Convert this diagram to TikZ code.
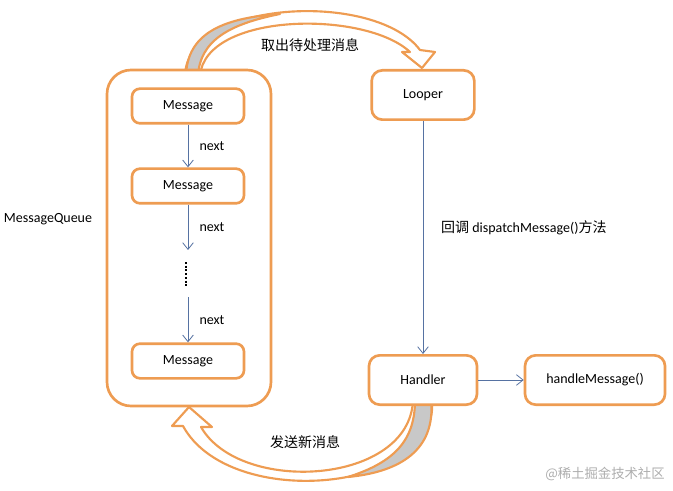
\documentclass[tikz,border=0pt]{standalone}
\usepackage{fontspec}
\setmainfont{Carlito}
\newfontfamily\cjk{Noto Sans CJK SC}
\usetikzlibrary{arrows.meta}

\definecolor{boxorange}{RGB}{238,156,82}
\definecolor{linkblue}{RGB}{86,114,162}
\definecolor{ribbongray}{RGB}{200,200,200}

\begin{document}
\begin{tikzpicture}[x=0.75pt, y=-0.75pt, line width=1pt,
    font=\fontsize{10.5}{12}\selectfont,
    msgbox/.style={draw=boxorange, line width=2pt, rounded corners=6pt, fill=white,
        minimum width=84pt, minimum height=26pt},
    rolebox/.style={draw=boxorange, line width=2pt, rounded corners=8pt, fill=white,
        minimum height=37pt},
    link/.style={draw=linkblue, line width=0.6pt, -{Straight Barb[length=5pt, width=8pt]}},
    ribbon/.style={draw=boxorange, line width=1.6pt, line join=round, fill=white}]
    \useasboundingbox (0, 0) rectangle (673, 491);

    % draw top block arrow (queue -> looper)
    \path[ribbon] (185, 76) .. controls (186, 0) and (375, -10) .. (420, 50)
        -- (435, 52) -- (422, 68) -- (402, 52) -- (410, 52)
        .. controls (365, 10) and (205, 12) .. (200, 76) -- cycle;
    \path[ribbon, fill=ribbongray] (186, 76) .. controls (187, 35) and (220, 18) .. (280, 14)
        .. controls (230, 24) and (200, 40) .. (198, 76) -- cycle;

    % draw bottom block arrow (handler -> queue)
    \path[ribbon] (432, 400) .. controls (440, 492) and (230, 512) .. (183, 426)
        -- (172, 426) -- (189, 407) -- (212, 427) -- (201, 427)
        .. controls (240, 495) and (410, 485) .. (413, 400) -- cycle;
    \path[ribbon, fill=ribbongray] (431, 400) .. controls (436, 450) and (400, 472) .. (348, 477)
        .. controls (395, 462) and (415, 440) .. (415, 400) -- cycle;

    % draw message queue
    \draw[boxorange, line width=2pt, rounded corners=18pt, fill=white] (107, 70) rectangle (271, 406);
    \node (queue) at (48, 219) {MessageQueue};

    \node[msgbox] (msga) at (188, 106) {Message};
    \node[msgbox] (msgb) at (188, 186) {Message};
    \node[msgbox] (msgc) at (188, 361) {Message};
    \coordinate (gapa) at (188, 250);
    \coordinate (gapb) at (188, 297);

    \draw[link] (msga) -- node[right=5pt] (nexta) {next} (msgb);
    \draw[link] (msgb) -- node[right=5pt] (nextb) {next} (gapa);
    \draw[line width=1.6pt, dash pattern=on 1.4pt off 1.4pt] (186, 262) -- (186, 287);
    \draw[link] (gapb) -- node[right=5pt] (nextc) {next} (msgc);

    % draw looper and handler
    \node[rolebox, minimum width=77pt] (looper) at (423, 95) {Looper};
    \node[rolebox, minimum width=81pt] (handler) at (423, 380) {Handler};
    \node[rolebox, minimum width=105pt] (handle) at (595, 380) {handleMessage()};

    \draw[link] (looper) -- node[pos=0.46, right=10pt] (dispatch) {\cjk 回调 \rmfamily dispatchMessage()\cjk 方法} (handler);
    \draw[link] (handler) -- (handle);

    % arrow labels
    \node[font=\cjk\fontsize{10.5}{12}\selectfont] (fetch) at (310, 45) {取出待处理消息};
    \node[font=\cjk\fontsize{10.5}{12}\selectfont] (send) at (305, 442) {发送新消息};
    \node[font=\cjk\fontsize{10}{12}\selectfont, text=black!32] (mark) at (605, 474) {@稀土掘金技术社区};

\end{tikzpicture}
\end{document}
